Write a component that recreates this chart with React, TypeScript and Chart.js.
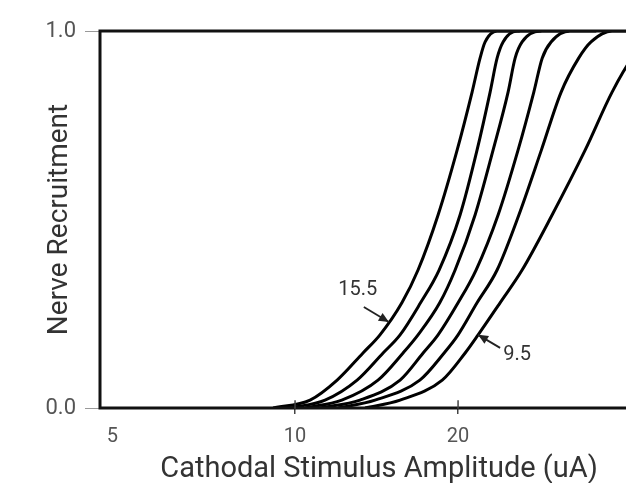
import React, { useEffect, useRef } from "react";
import { Chart, registerables } from "chart.js";

Chart.register(...registerables);

// Nerve recruitment fraction (shared y levels for all curves)
const recruitment = [0, 0.021, 0.074, 0.146, 0.194, 0.279, 0.366, 0.512, 0.684, 0.838, 0.928, 0.971, 1.0, 1.0];

// Cathodal stimulus amplitude (uA) for each curve at the recruitment levels above
const amp155 = [9.11, 10.66, 11.96, 13.35, 14.35, 15.75, 16.87, 18.37, 19.92, 21.23, 21.96, 22.44, 23.61, 26.0];
const amp143 = [9.79, 11.36, 13.02, 14.54, 15.63, 17.05, 18.45, 20.17, 21.68, 22.92, 23.61, 24.22, 25.7, 28.5];
const amp131 = [10.43, 12.2, 14.23, 15.83, 16.87, 18.5, 19.75, 21.5, 23.21, 24.74, 25.49, 26.26, 28.35, 32.0];
const amp119 = [11.12, 13.18, 15.63, 17.24, 18.37, 20.0, 21.59, 23.71, 25.81, 27.6, 28.6, 29.7, 32.2, 36.0];
const amp107 = [12.01, 14.05, 17.0, 18.85, 20.0, 21.68, 23.61, 25.9, 28.5, 31.0, 33.4, 35.2, 38.5, 43.0];
const amp95 = [13.47, 15.63, 18.7, 20.61, 21.78, 23.91, 26.26, 29.83, 34.33, 38.5, 41.92, 44.87, 50.33, 56.0];

const seriesNames = ["15.5", "14.3", "13.1", "11.9", "10.7", "9.5"];
const seriesAmps = [amp155, amp143, amp131, amp119, amp107, amp95];

// Axis ticks
const xTickValues = [4.6, 10, 20];
const xTickLabels = ["5", "10", "20"];
const yTickValues = [0, 1];
const yTickLabels = ["0.0", "1.0"];

// Curve annotations (arrow tip on curve, in data units)
const noteLabels = ["15.5", "9.5"];
const noteTipAmp = [14.9, 21.78];
const noteTipRec = [0.228, 0.194];

const FONT = "Roboto";

const framePlugin = {
  id: "frame",
  afterDatasetsDraw(chart: any) {
    const { ctx, chartArea } = chart;
    const { left, right, top, bottom } = chartArea;
    ctx.save();
    ctx.strokeStyle = "#111";
    ctx.lineWidth = 3;
    ctx.lineCap = "square";
    ctx.beginPath();
    ctx.moveTo(right, top);
    ctx.lineTo(left, top);
    ctx.lineTo(left, bottom);
    ctx.lineTo(right, bottom);
    ctx.lineTo(right, top);
    ctx.stroke();
    // small tick marks crossing the bottom axis
    ctx.strokeStyle = "#444";
    ctx.lineWidth = 1.5;
    for (let i = 1; i < xTickValues.length; i++) {
      const px = chart.scales.x.getPixelForValue(xTickValues[i]);
      ctx.beginPath();
      ctx.moveTo(px, bottom - 7);
      ctx.lineTo(px, bottom);
      ctx.stroke();
    }
    ctx.restore();
  },
};

const notesPlugin = {
  id: "notes",
  afterDraw(chart: any) {
    const { ctx, scales } = chart;
    const textOff = [
      [-31, -32],
      [39, 20],
    ];
    const tailOff = [
      [-25, -15],
      [22, 13],
    ];
    ctx.save();
    for (let i = 0; i < noteLabels.length; i++) {
      const tx = scales.x.getPixelForValue(noteTipAmp[i]);
      const ty = scales.y.getPixelForValue(noteTipRec[i]);
      const sx = tx + tailOff[i][0];
      const sy = ty + tailOff[i][1];
      ctx.strokeStyle = "#222";
      ctx.fillStyle = "#222";
      ctx.lineWidth = 1.8;
      ctx.beginPath();
      ctx.moveTo(sx, sy);
      ctx.lineTo(tx, ty);
      ctx.stroke();
      const ang = Math.atan2(ty - sy, tx - sx);
      const L = 10;
      const W = 4.5;
      ctx.beginPath();
      ctx.moveTo(tx, ty);
      ctx.lineTo(tx - L * Math.cos(ang) + W * Math.sin(ang), ty - L * Math.sin(ang) - W * Math.cos(ang));
      ctx.lineTo(tx - L * Math.cos(ang) - W * Math.sin(ang), ty - L * Math.sin(ang) + W * Math.cos(ang));
      ctx.closePath();
      ctx.fill();
      ctx.fillStyle = "#333";
      ctx.font = `20px ${FONT}`;
      ctx.textAlign = "center";
      ctx.textBaseline = "middle";
      ctx.fillText(noteLabels[i], tx + textOff[i][0], ty + textOff[i][1]);
    }
    ctx.restore();
  },
};

export default function App() {
  const ref = useRef<HTMLCanvasElement>(null);

  useEffect(() => {
    if (!ref.current) return;
    const datasets = seriesAmps.map((amps, i) => ({
      label: seriesNames[i],
      data: amps.map((a, j) => ({ x: a, y: recruitment[j] })),
      borderColor: "#000",
      borderWidth: 3,
      pointRadius: 0,
      fill: false,
      cubicInterpolationMode: "monotone" as const,
    }));
    const chart = new Chart(ref.current, {
      type: "line",
      data: { datasets },
      plugins: [framePlugin, notesPlugin],
      options: {
        animation: false,
        responsive: false,
        devicePixelRatio: 1,
        layout: { padding: { top: 31, right: 22, left: 0, bottom: 0 } },
        plugins: { legend: { display: false }, tooltip: { enabled: false } },
        scales: {
          x: {
            type: "logarithmic",
            min: 4.363,
            max: 46.8,
            bounds: "data",
            afterBuildTicks: (s: any) => {
              s.ticks = xTickValues.map((v) => ({ value: v }));
            },
            afterFit: (s: any) => {
              s.height = 75;
            },
            ticks: {
              autoSkip: false,
              maxRotation: 0,
              padding: 11,
              color: "#555",
              font: { family: FONT, size: 20 },
              callback: (_v: any, i: number) => xTickLabels[i],
            },
            grid: {
              drawOnChartArea: false,
              drawTicks: true,
              tickLength: 6,
              lineWidth: 1.5,
              color: (c: any) => (c.index === 0 ? "rgba(0,0,0,0)" : "#444"),
            },
            border: { display: false },
            title: {
              display: true,
              text: "Cathodal Stimulus Amplitude (uA)",
              color: "#333",
              font: { family: FONT, size: 29 },
              padding: { top: 0, bottom: -4 },
            },
          },
          y: {
            type: "linear",
            min: 0,
            max: 1,
            afterBuildTicks: (s: any) => {
              s.ticks = yTickValues.map((v) => ({ value: v }));
            },
            afterFit: (s: any) => {
              s.width = 100;
            },
            ticks: {
              padding: 9,
              color: "#555",
              font: { family: FONT, size: 22 },
              callback: (_v: any, i: number) => yTickLabels[i],
            },
            grid: {
              drawOnChartArea: false,
              drawTicks: true,
              tickLength: 15,
              color: "#999",
            },
            border: { display: false },
            title: {
              display: true,
              text: "Nerve Recruitment",
              color: "#333",
              font: { family: FONT, size: 28 },
              padding: { top: 43, bottom: 0 },
            },
          },
        },
      },
    });
    return () => chart.destroy();
  }, []);

  return (
    <div
      style={{
        position: "fixed",
        left: 0,
        top: 0,
        width: 626,
        height: 483,
        overflow: "hidden",
        background: "#fff",
      }}
    >
      <canvas ref={ref} width={680} height={483} style={{ display: "block" }} />
    </div>
  );
}
